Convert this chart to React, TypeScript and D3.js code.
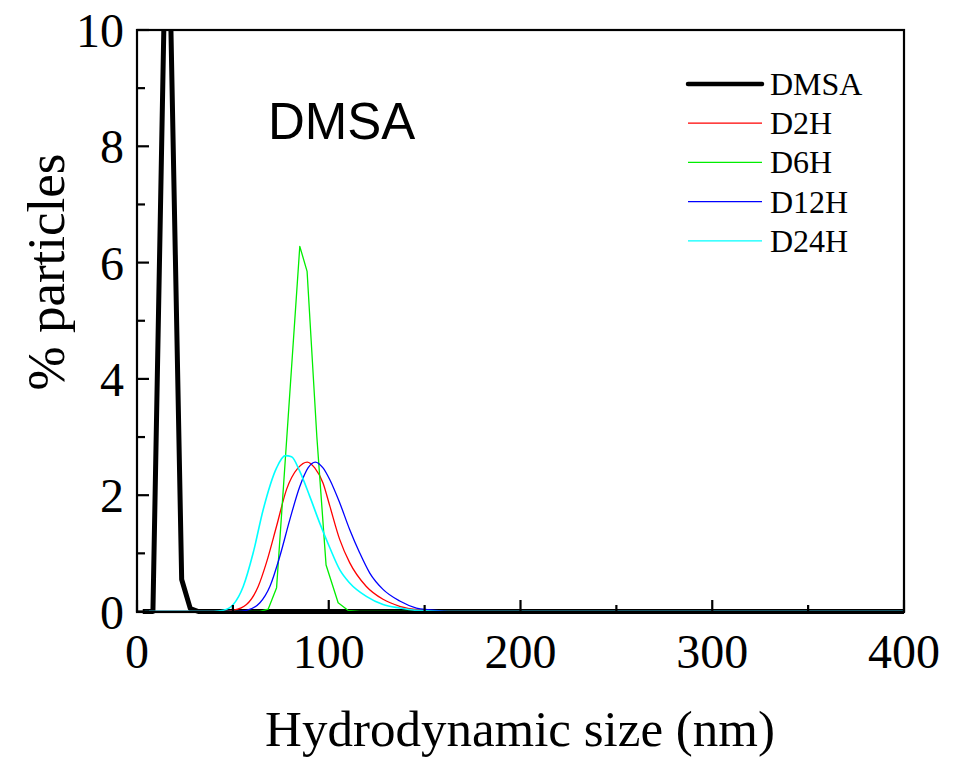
import React from "react";
import * as d3 from "d3";

// ---- data ----
const dmsaSize = [3, 8.3, 15.8, 23.3, 27.8, 32, 400];
const dmsaPct = [0, 0, 13.2, 0.55, 0.05, 0, 0];

const d2hSize = [4, 45, 50.2, 57.1, 63.2, 67.5, 72.8, 78, 84, 88.8, 92.7, 97, 100.5, 105.7, 110.9, 119.6, 128.3, 137, 149, 160, 400];
const d2hPct = [0, 0, 0.02, 0.12, 0.43, 0.84, 1.47, 2.1, 2.47, 2.57, 2.47, 2.21, 1.82, 1.24, 0.84, 0.43, 0.21, 0.09, 0.02, 0, 0];

const d6hSize = [4, 64, 68.4, 72.8, 84.9, 88.7, 93.8, 98.6, 104.9, 110, 116, 400];
const d6hPct = [0, 0, 0.04, 0.41, 6.28, 5.85, 3.0, 0.8, 0.15, 0.02, 0, 0];

const d12hSize = [4, 52, 57.1, 64.1, 69.3, 74.5, 79.7, 84.9, 89.2, 93, 97, 100.5, 105.7, 110.9, 116.1, 121.4, 128.3, 137, 145.7, 152, 165, 400];
const d12hPct = [0, 0, 0.02, 0.15, 0.43, 0.95, 1.58, 2.15, 2.47, 2.57, 2.47, 2.27, 1.87, 1.41, 1.01, 0.66, 0.38, 0.18, 0.06, 0.03, 0, 0];

const d24hSize = [4, 40, 45, 50.2, 55.4, 60.6, 65.8, 72.8, 77.3, 80.6, 84.9, 90.1, 95.3, 100.5, 105.7, 110.9, 119.6, 128.3, 137, 145.7, 160, 400];
const d24hPct = [0, 0, 0.02, 0.12, 0.43, 1.01, 1.75, 2.47, 2.68, 2.66, 2.41, 1.98, 1.52, 1.1, 0.72, 0.49, 0.26, 0.12, 0.06, 0.02, 0, 0];

const seriesNames = ["DMSA", "D2H", "D6H", "D12H", "D24H"];
const seriesColors = ["#000000", "#ff0000", "#00ee00", "#0000ff", "#00ffff"];
const seriesWidths = [5, 1.3, 1.3, 1.3, 1.6];

const xTicks = [0, 100, 200, 300, 400];
const xMinorTicks = [50, 150, 250, 350];
const yTicks = [0, 2, 4, 6, 8, 10];
const yMinorTicks = [1, 3, 5, 7, 9];

const W = 964;
const H = 759;
const L = 137;
const R = 904;
const T = 30;
const B = 612;

export default function App() {
  const x = d3.scaleLinear().domain([0, 400]).range([L, R]);
  const y = d3.scaleLinear().domain([0, 10]).range([B - 0.5, T]);

  const sizes = [dmsaSize, d2hSize, d6hSize, d12hSize, d24hSize];
  const pcts = [dmsaPct, d2hPct, d6hPct, d12hPct, d24hPct];
  const curves = [d3.curveLinear, d3.curveMonotoneX, d3.curveLinear, d3.curveMonotoneX, d3.curveMonotoneX];

  const paths = sizes.map((s, i) => {
    const pts: [number, number][] = s.map((v, j) => [v, pcts[i][j]]);
    return d3
      .line<[number, number]>()
      .x((d) => x(d[0]))
      .y((d) => y(d[1]))
      .curve(curves[i])(pts) as string;
  });

  const serif = "'Liberation Serif', 'Times New Roman', serif";
  const sans = "'Liberation Sans', Arial, sans-serif";

  const legendX0 = 688;
  const legendX1 = 762;
  const legendY0 = 84;
  const legendDy = 39.2;

  return (
    <svg
      width={W}
      height={H}
      style={{ position: "absolute", left: 0, top: 0, background: "#fff" }}
    >
      <defs>
        <clipPath id="plotclip">
          <rect x={L} y={T} width={R - L} height={B - T + 3} />
        </clipPath>
      </defs>

      {/* data */}
      <g clipPath="url(#plotclip)">
        {paths.map((p, i) => (
          <path
            key={i}
            d={p}
            fill="none"
            stroke={seriesColors[i]}
            strokeWidth={seriesWidths[i]}
            strokeLinejoin="round"
          />
        ))}
      </g>

      {/* frame */}
      <rect x={L} y={T} width={R - L} height={B - T} fill="none" stroke="#000" strokeWidth={2.2} />

      {/* x ticks (inward) */}
      {xTicks.map((t) => (
        <line key={"xt" + t} x1={x(t)} x2={x(t)} y1={B} y2={B - 12} stroke="#000" strokeWidth={2.2} />
      ))}
      {xMinorTicks.map((t) => (
        <line key={"xm" + t} x1={x(t)} x2={x(t)} y1={B} y2={B - 7} stroke="#000" strokeWidth={2.2} />
      ))}
      {/* y ticks (inward) */}
      {yTicks.map((t) => (
        <line key={"yt" + t} x1={L} x2={L + 12} y1={y(t)} y2={y(t)} stroke="#000" strokeWidth={2.2} />
      ))}
      {yMinorTicks.map((t) => (
        <line key={"ym" + t} x1={L} x2={L + 8} y1={y(t)} y2={y(t)} stroke="#000" strokeWidth={2.2} />
      ))}

      {/* tick labels */}
      {xTicks.map((t) => (
        <text key={"xl" + t} x={x(t)} y={668} textAnchor="middle" fontFamily={serif} fontSize={48}>
          {t}
        </text>
      ))}
      {yTicks.map((t) => (
        <text key={"yl" + t} x={124} y={y(t) + 17} textAnchor="end" fontFamily={serif} fontSize={48}>
          {t}
        </text>
      ))}

      {/* axis titles */}
      <text x={520} y={746} textAnchor="middle" fontFamily={serif} fontSize={51}>
        Hydrodynamic size (nm)
      </text>
      <text
        transform="translate(64,272) rotate(-90)"
        textAnchor="middle"
        fontFamily={serif}
        fontSize={53}
      >
        % particles
      </text>

      {/* inner label */}
      <text x={268} y={139} fontFamily={sans} fontSize={51}>
        DMSA
      </text>

      {/* legend */}
      {seriesNames.map((n, i) => (
        <g key={n}>
          <line
            x1={legendX0}
            x2={legendX1}
            y1={legendY0 + i * legendDy}
            y2={legendY0 + i * legendDy}
            stroke={seriesColors[i]}
            strokeWidth={i === 0 ? 4.5 : 1.3}
            strokeLinecap={i === 0 ? "round" : "butt"}
          />
          <text x={770} y={legendY0 + i * legendDy + 11} fontFamily={serif} fontSize={32}>
            {n}
          </text>
        </g>
      ))}
    </svg>
  );
}
